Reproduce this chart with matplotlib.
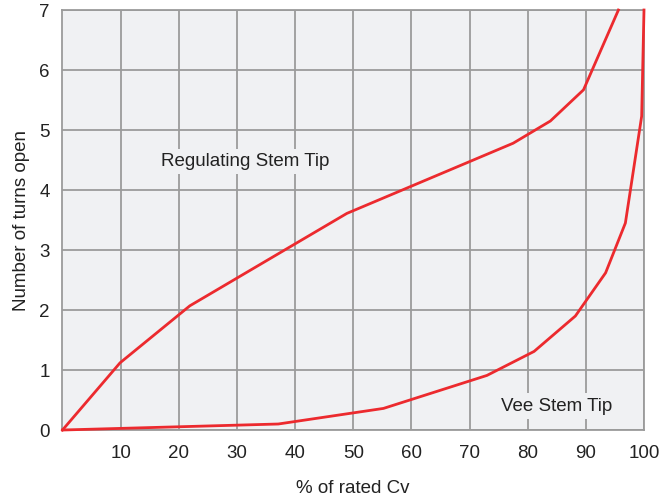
import matplotlib.pyplot as plt

plt.rcParams['font.family'] = ['Liberation Sans', 'DejaVu Sans']

# curve data
reg_x = [0, 9.9, 21.9, 48.9, 77.5, 83.9, 89.6, 95.6]
reg_y = [0, 1.12, 2.07, 3.61, 4.78, 5.15, 5.67, 7.0]

vee_x = [0, 37.1, 55.2, 73.0, 81.1, 88.2, 93.4, 96.8, 99.6, 100]
vee_y = [0, 0.10, 0.36, 0.91, 1.31, 1.90, 2.62, 3.45, 5.23, 7.0]

x_ticks = [10, 20, 30, 40, 50, 60, 70, 80, 90, 100]
y_ticks = [0, 1, 2, 3, 4, 5, 6, 7]

bg = '#f0f1f3'
grid_col = '#9b9b9b'
red = '#ec2a2e'
fs = 13.5

fig = plt.figure(figsize=(6.62, 5.01), dpi=100)
ax = fig.add_axes([0.0944, 0.1417, 0.8784, 0.8383])
ax.set_facecolor(bg)

ax.plot(reg_x, reg_y, color=red, lw=2.0, zorder=3, clip_on=False)
ax.plot(vee_x, vee_y, color=red, lw=2.0, zorder=3, clip_on=False)

ax.set_xlim(0, 100)
ax.set_ylim(0, 7)
ax.set_xticks(x_ticks)
ax.set_yticks(y_ticks)
ax.grid(True, color=grid_col, lw=1.3, zorder=1)
ax.set_axisbelow(True)
for s in ax.spines.values():
    s.set_color(grid_col)
    s.set_linewidth(1.3)
ax.tick_params(length=0, labelsize=fs, colors='#222222')
ax.tick_params(axis='x', pad=11)
ax.tick_params(axis='y', pad=9)

box = dict(facecolor=bg, edgecolor='none', pad=3)
ax.text(31.5, 4.48, 'Regulating Stem Tip', fontsize=fs, ha='center', va='center',
        color='#222222', bbox=box, zorder=2)
ax.text(85, 0.4, 'Vee Stem Tip', fontsize=fs, ha='center', va='center',
        color='#222222', bbox=box, zorder=2)

ax.set_xlabel('% of rated Cv', fontsize=fs, color='#222222', labelpad=13)
ax.set_ylabel('Number of turns open', fontsize=fs, color='#222222', labelpad=7)

fig.savefig('out.png', dpi=100)
